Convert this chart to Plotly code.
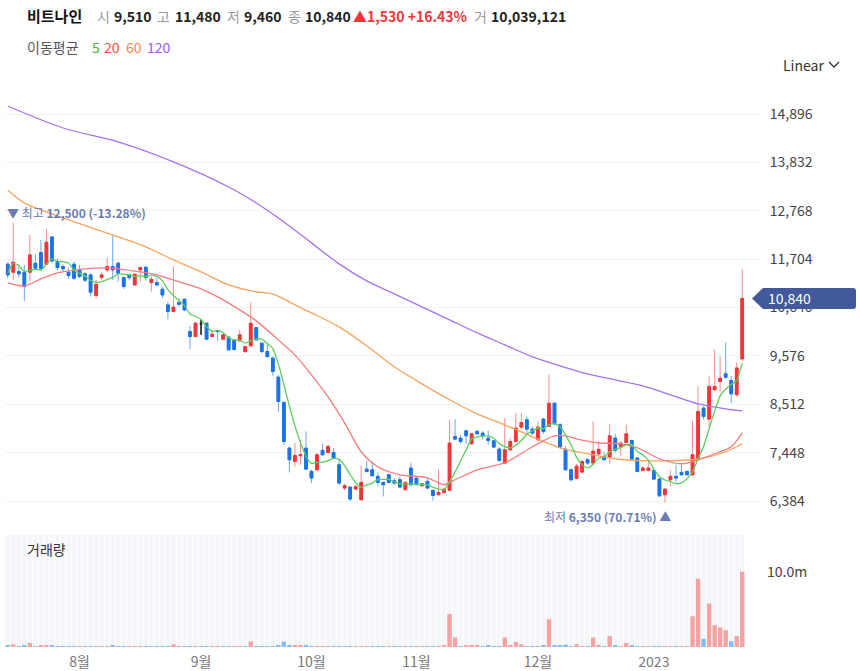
import plotly.graph_objects as go

# ---------------- data ----------------
stock_name = "비트나인"

opens = [11592, 11416, 11430, 11416, 11416, 11614, 11848, 11592, 12192, 11650,
         11540, 11416, 11592, 11467, 11380, 11357, 10903, 11299, 11467, 11540,
         11614, 11299, 11357, 11138, 11467, 11525, 11188, 11188, 11042, 10697,
         10551, 10748, 10822, 10111, 10001, 10280, 10294, 10001, 10133, 9943,
         9987, 9928, 9906, 9671, 9796, 10199, 9855, 9673, 9526, 9108,
         8552, 7548, 7255, 7379, 7548, 7035, 7072, 7496, 7452, 7452,
         7181, 6669, 6690, 6647, 6412, 7086, 7072, 6925, 6793, 6962,
         6830, 6852, 6632, 7108, 6888, 6720, 6815, 6617, 6522, 6573,
         6620, 7803, 7767, 7928, 7643, 7914, 7877, 7767, 7708, 7525,
         7217, 7510, 7694, 8009, 8170, 7965, 7730, 8185, 8023, 8536,
         8060, 7525, 7071, 6880, 7020, 7291, 7220, 7420, 7364, 7349,
         7767, 7584, 7672, 7716, 7328, 7057, 7057, 7057, 6866, 6522,
         6851, 6925, 7013, 7035, 6962, 7306, 8426, 8185, 8830, 9013,
         9181, 9035, 8720, 9510]
highs = [11636, 12500, 11540, 11577, 12236, 11812, 12127, 12368, 12200, 11724,
         11590, 11504, 11650, 11577, 11420, 11394, 11247, 11430, 11738, 12222,
         11650, 11321, 11380, 11394, 11540, 11540, 11320, 11283, 11100, 10771,
         11540, 10844, 10830, 10236, 10330, 10367, 10310, 10150, 10150, 10060,
         10000, 9940, 10148, 9790, 10748, 10205, 9870, 9856, 9563, 9160,
         8573, 7584, 7658, 7731, 7914, 7072, 7438, 7643, 7621, 7548,
         7291, 6760, 6700, 6740, 7167, 7277, 7255, 7013, 6810, 6984,
         6888, 6925, 6815, 7232, 6900, 6780, 6888, 6647, 7072, 6660,
         8170, 8185, 7840, 7950, 7870, 7950, 7928, 7928, 7730, 7569,
         8207, 7767, 8316, 8316, 8243, 8023, 8133, 8207, 9159, 8540,
         8097, 7584, 7100, 7200, 7290, 7330, 8130, 7700, 7452, 8082,
         7862, 7694, 8060, 7730, 7350, 7160, 7254, 7086, 6888, 6660,
         7057, 7181, 7181, 7050, 8133, 8903, 8463, 9123, 9709, 9562,
         9870, 9137, 9430, 11480]
lows = [11284, 11247, 11300, 10786, 11211, 11467, 11467, 11577, 11614, 11467,
        11430, 11270, 11247, 11284, 11200, 10881, 10844, 11247, 11416, 11247,
        11211, 11050, 11240, 11120, 11211, 11230, 10990, 11100, 10844, 10382,
        10540, 10660, 10570, 9723, 9990, 10038, 9930, 9990, 9906, 9930,
        9700, 9690, 9891, 9640, 9781, 9925, 9635, 9526, 9138, 8332,
        7621, 7013, 7145, 7181, 7072, 6778, 7035, 7379, 7416, 7306,
        6742, 6617, 6380, 6620, 6397, 7010, 6925, 6720, 6485, 6780,
        6742, 6669, 6617, 6720, 6730, 6700, 6647, 6390, 6500, 6560,
        6600, 7730, 7643, 7643, 7620, 7840, 7730, 7620, 7547, 7254,
        7203, 7496, 7672, 7950, 7862, 7840, 7694, 7862, 8009, 8060,
        7547, 7056, 6815, 6860, 6990, 7180, 7200, 7380, 7276, 7203,
        7452, 7364, 7657, 7276, 7013, 7035, 7035, 6851, 6470, 6350,
        6705, 6793, 6940, 6940, 6940, 7291, 8170, 7987, 8815, 8793,
        9064, 8537, 8683, 9460]
closes = [11357, 11636, 11380, 11101, 11797, 11504, 11504, 12075, 11665, 11518,
          11490, 11343, 11284, 11321, 11240, 10977, 11152, 11357, 11540, 11467,
          11394, 11101, 11299, 11372, 11518, 11300, 11261, 11137, 10917, 10551,
          10646, 10712, 10587, 10001, 10294, 10280, 9943, 10052, 10111, 10038,
          9708, 9716, 10038, 9781, 10294, 9928, 9671, 9563, 9233, 8573,
          7694, 7291, 7386, 7401, 7086, 6889, 7401, 7401, 7584, 7328,
          6778, 6720, 6427, 6698, 6793, 7035, 6940, 6793, 6742, 6793,
          6778, 6691, 6793, 6742, 6742, 6764, 6669, 6507, 6573, 6647,
          7657, 7745, 7694, 7818, 7862, 7862, 7818, 7716, 7569, 7276,
          7510, 7694, 7986, 8111, 7965, 7877, 8009, 7913, 8536, 8082,
          7569, 7071, 6851, 7150, 7250, 7220, 7480, 7520, 7291, 7818,
          7496, 7657, 7862, 7306, 7035, 7108, 7108, 6866, 6500, 6646,
          6925, 6888, 6962, 6962, 7401, 8353, 8243, 8903, 8903, 9086,
          9108, 8742, 9310, 10840]
volumes = [150000, 360000, 130000, 220000, 540000, 130000, 140000, 220000, 140000, 100000,
           110000, 100000, 120000, 100000, 110000, 120000, 110000, 100000, 120000, 220000,
           110000, 110000, 60000, 50000, 60000, 50000, 60000, 50000, 60000, 90000,
           360000, 80000, 70000, 100000, 80000, 70000, 90000, 60000, 80000, 70000,
           90000, 80000, 70000, 90000, 720000, 120000, 110000, 120000, 130000, 220000,
           720000, 220000, 150000, 180000, 220000, 100000, 90000, 80000, 80000, 70000,
           90000, 80000, 90000, 70000, 80000, 70000, 60000, 50000, 40000, 40000,
           40000, 50000, 40000, 60000, 40000, 50000, 40000, 60000, 90000, 220000,
           4400000, 1260000, 80000, 220000, 220000, 220000, 80000, 180000, 100000, 100000,
           1260000, 150000, 680000, 360000, 130000, 130000, 130000, 150000, 3700000, 220000,
           220000, 320000, 100000, 360000, 100000, 100000, 1260000, 220000, 100000, 1440000,
           220000, 100000, 540000, 220000, 100000, 90000, 90000, 100000, 110000, 100000,
           90000, 90000, 80000, 90000, 4100000, 9100000, 1100000, 5800000, 2900000, 2600000,
           2250000, 770000, 1440000, 10039121]
# closes of the four sessions before the first visible candle (for the 5-day average)
prior_closes = [10560, 11600, 11750, 11700]

# moving averages (trading-day index, value)
ma20_idx = [0, 3, 6, 9, 14, 18, 24, 27, 31, 35, 38, 42, 45, 49, 52, 55, 58, 61, 64, 67,
            71, 76, 79, 81, 85, 90, 95, 99, 101, 103, 107, 111, 114, 118, 122, 125, 128, 131, 133]
ma20_val = [11181, 11115, 11269, 11401, 11489, 11511, 11423, 11357, 11203, 11050, 10874, 10588,
            10346, 9928, 9599, 9159, 8676, 8104, 7467, 7137, 6961, 6895, 6741, 6852, 7071, 7225,
            7577, 7818, 7818, 7752, 7664, 7643, 7555, 7313, 7203, 7291, 7423, 7577, 7884]
ma60_idx = [0, 3, 10, 20, 25, 30, 35, 40, 45, 48, 52, 55, 60, 65, 70, 75, 80, 85, 90, 95,
            100, 105, 110, 115, 120, 124, 127, 130, 133]
ma60_val = [13226, 12940, 12610, 12192, 11973, 11687, 11423, 11137, 10984, 10940, 10698, 10522,
            10214, 9797, 9335, 8961, 8610, 8302, 8060, 7796, 7555, 7423, 7313, 7269, 7269, 7291,
            7357, 7467, 7643]
ma120_idx = [0, 10, 20, 30, 40, 45, 50, 55, 60, 65, 70, 75, 80, 85, 90, 95, 100, 105, 110,
             115, 120, 125, 130, 133]
ma120_val = [15072, 14588, 14281, 13841, 13291, 12940, 12522, 12061, 11599, 11225, 10940, 10654,
             10368, 10082, 9819, 9555, 9357, 9181, 9049, 8917, 8720, 8522, 8412, 8368]

month_tick_idx = [13, 35, 55, 74, 96, 117]
month_tick_text = ["8월", "9월", "10월", "11월", "12월", "2023"]
price_ticks = [6384, 7448, 8512, 9576, 10640, 11704, 12768, 13832, 14896]
volume_ticks = [10000000]

N = len(closes)
assert all(len(a) == N for a in (opens, highs, lows, volumes))
idx = list(range(N))

# ---------------- styling ----------------
FONT = "Noto Sans CJK KR, Noto Sans, sans-serif"
RED, RED_WICK, RED_VOL = "#f0353b", "#f58c8c", "#f4a2a2"
BLUE, BLUE_WICK, BLUE_VOL = "#1a74e6", "#6aa6ef", "#86bcf4"
C5, C20, C60, C120 = "#5ccf5c", "#f47c7c", "#f6a45e", "#a571f2"
LBL = "#6b7bb3"
GRID = "#f1f2f5"

W, H = 860, 671
PL, PR, PT, PB = 5, 745, 85, 647
def pxx(px):
    return (px - PL) / (PR - PL)
def pxy(py):
    return (PB - py) / (PB - PT)

# price axis calibrated by its ticks (px position of first and last tick)
top_tick_px, bot_tick_px = 114, 501
per_px = (price_ticks[-1] - price_ticks[0]) / (bot_tick_px - top_tick_px)
price_panel_top, price_panel_bot = 85, 520
price_range = [price_ticks[0] - (price_panel_bot - bot_tick_px) * per_px,
               price_ticks[-1] + (top_tick_px - price_panel_top) * per_px]
price_dom = [pxy(price_panel_bot), 1.0]
vol_panel_top = 535
vol_tick_px = 572
vol_top = volume_ticks[0] * (PB - vol_panel_top) / (PB - vol_tick_px)

def price_to_paper(v):
    return price_dom[0] + (v - price_range[0]) / (price_range[1] - price_range[0]) * (price_dom[1] - price_dom[0])

up = [i for i in idx if closes[i] > opens[i]]
dn = [i for i in idx if closes[i] < opens[i]]
dj = [i for i in idx if closes[i] == opens[i]]

def pick(arr, ii):
    return [arr[i] for i in ii]

fig = go.Figure()

# volume panel
fig.add_trace(go.Bar(x=idx, y=[vol_top] * N, marker=dict(color="#f4f6fa", line_width=0),
                     yaxis="y2", hoverinfo="skip", showlegend=False))
vol_colors = []
for i in idx:
    ref = closes[i - 1] if i > 0 else opens[i]
    vol_colors.append(RED_VOL if closes[i] >= ref else BLUE_VOL)
fig.add_trace(go.Bar(x=idx, y=volumes, marker=dict(color=vol_colors, line_width=0),
                     yaxis="y2", showlegend=False))

# candle wicks (lighter) then bodies (saturated)
for ii, col in ((up, RED_WICK), (dn, BLUE_WICK)):
    fig.add_trace(go.Candlestick(
        x=ii, open=pick(opens, ii), high=pick(highs, ii), low=pick(lows, ii), close=pick(closes, ii),
        increasing=dict(line=dict(color=col, width=1), fillcolor=col),
        decreasing=dict(line=dict(color=col, width=1), fillcolor=col),
        whiskerwidth=0, showlegend=False, yaxis="y"))
for ii, col in ((up, RED), (dn, BLUE)):
    bo = pick(opens, ii)
    bc = pick(closes, ii)
    fig.add_trace(go.Candlestick(
        x=ii, open=bo, close=bc, high=[max(a, b) for a, b in zip(bo, bc)],
        low=[min(a, b) for a, b in zip(bo, bc)],
        increasing=dict(line=dict(color=col, width=1), fillcolor=col),
        decreasing=dict(line=dict(color=col, width=1), fillcolor=col),
        whiskerwidth=0, showlegend=False, yaxis="y"))
if dj:
    fig.add_trace(go.Candlestick(
        x=dj, open=pick(opens, dj), high=pick(highs, dj), low=pick(lows, dj), close=pick(closes, dj),
        increasing=dict(line=dict(color="#111111", width=1.5), fillcolor="#111111"),
        decreasing=dict(line=dict(color="#111111", width=1.5), fillcolor="#111111"),
        whiskerwidth=0, showlegend=False, yaxis="y"))

# moving averages
full = prior_closes + closes
ma5 = [sum(full[i:i + 5]) / 5 for i in idx]
fig.add_trace(go.Scatter(x=ma120_idx, y=ma120_val, mode="lines",
                         line=dict(color=C120, width=1.3, shape="spline", smoothing=0.8),
                         showlegend=False, yaxis="y"))
fig.add_trace(go.Scatter(x=ma60_idx, y=ma60_val, mode="lines",
                         line=dict(color=C60, width=1.3, shape="spline", smoothing=0.8),
                         showlegend=False, yaxis="y"))
fig.add_trace(go.Scatter(x=ma20_idx, y=ma20_val, mode="lines",
                         line=dict(color=C20, width=1.3, shape="spline", smoothing=0.8),
                         showlegend=False, yaxis="y"))
fig.add_trace(go.Scatter(x=idx, y=ma5, mode="lines",
                         line=dict(color=C5, width=1.3, shape="spline", smoothing=0.5),
                         showlegend=False, yaxis="y"))

# ---------------- annotations ----------------
ann = []
def text(t, px, py, size=13, color="#222", xanchor="left"):
    ann.append(dict(text=t, x=pxx(px), y=pxy(py), xref="paper", yref="paper",
                    xanchor=xanchor, yanchor="middle", showarrow=False,
                    font=dict(family=FONT, size=size, color=color)))

O, Hh, L, C, V = opens[-1], highs[-1], lows[-1], closes[-1], volumes[-1]
chg = C - closes[-2]
chg_pct = chg / closes[-2] * 100
HY = 16
text("<b>" + stock_name + "</b>", 25, HY, 15, "#111")
text("시", 95, HY, 14, "#999")
text(f"<b>{O:,}</b>", 112, HY, 14, "#222")
text("고", 155, HY, 14, "#999")
text(f"<b>{Hh:,}</b>", 173, HY, 14, "#222")
text("저", 225, HY, 14, "#999")
text(f"<b>{L:,}</b>", 242, HY, 14, "#222")
text("종", 286, HY, 14, "#999")
text(f"<b>{C:,}</b>", 303, HY, 14, "#222")
text(f"<b>▲{chg:,} {chg_pct:+.2f}%</b>", 351, HY, 14, RED)
text("거", 472, HY, 14, "#999")
text(f"<b>{V:,}</b>", 489, HY, 14, "#222")

LY = 47
text("이동평균", 25, LY, 14, "#555")
text("5", 90, LY, 14, "#3cb83c")
text("20", 102, LY, 14, "#f05252")
text("60", 124, LY, 14, "#f28a3c")
text("120", 145, LY, 14, "#9b5cf0")

text("Linear", 781, 65, 14, "#333")
text("거래량", 25, 549, 14, "#333")

hi = max(highs)
hi_i = highs.index(hi)
lo = min(lows)
lo_i = lows.index(lo)
hi_pct = (C / hi - 1) * 100
lo_pct = (C / lo - 1) * 100
ann.append(dict(text=f"▼ 최고 <b>{hi:,} ({hi_pct:.2f}%)</b>", x=hi_i, y=hi, xref="x", yref="y",
                xanchor="left", yanchor="bottom", xshift=-8, yshift=0, showarrow=False,
                font=dict(family=FONT, size=12, color=LBL)))
ann.append(dict(text=f"최저 <b>{lo:,} ({lo_pct:.2f}%)</b> ▲", x=lo_i, y=lo, xref="x", yref="y",
                xanchor="right", yanchor="top", xshift=8, yshift=-3, showarrow=False,
                font=dict(family=FONT, size=12, color=LBL)))

# last-price tag (placed at the last close, right of the plot area)
cy = price_to_paper(C)
ann.append(dict(text=f"{C:,}", x=1, y=cy, xref="paper", yref="paper", xanchor="left",
                yanchor="middle", xshift=21, showarrow=False,
                font=dict(family=FONT, size=14, color="white")))
shapes = [
    dict(type="path", xref="paper", yref="paper", xsizemode="pixel", ysizemode="pixel",
         xanchor=1, yanchor=cy,
         path="M 7,0 L 18,10.5 L 108,10.5 Q 111,10.5 111,7.5 L 111,-7.5 Q 111,-10.5 108,-10.5 L 18,-10.5 Z",
         fillcolor="#42599b", line=dict(width=0), layer="above"),
    dict(type="path", xref="paper", yref="paper",
         path=f"M {pxx(829)},{pxy(62)} L {pxx(834)},{pxy(67)} L {pxx(839)},{pxy(62)}",
         line=dict(color="#333", width=1.3)),
]

fig.update_layout(
    width=W, height=H,
    margin=dict(l=PL, r=W - PR, t=PT, b=H - PB, autoexpand=False),
    paper_bgcolor="white", plot_bgcolor="white",
    font=dict(family=FONT, size=14, color="#444"),
    barmode="overlay", bargap=0.2, boxgap=0.3,
    showlegend=False,
    annotations=ann, shapes=shapes,
    xaxis=dict(range=[-0.5, N - 0.5], anchor="y2", tickvals=month_tick_idx, ticktext=month_tick_text,
               showgrid=False, zeroline=False, showline=False, ticks="", ticklabelstandoff=5,
               automargin=False,
               tickfont=dict(size=14, color="#777"), rangeslider=dict(visible=False), fixedrange=True),
    yaxis=dict(domain=price_dom, range=price_range, side="right", automargin=False,
               tickvals=price_ticks, ticktext=[f"{v:,}" for v in price_ticks],
               showgrid=True, gridcolor=GRID, gridwidth=1, zeroline=False, showline=False,
               ticks="outside", ticklen=15, tickcolor=GRID, tickwidth=1, ticklabelstandoff=6,
               tickfont=dict(size=14, color="#444")),
    yaxis2=dict(domain=[0, pxy(vol_panel_top)], range=[0, vol_top], side="right", automargin=False,
                tickvals=volume_ticks, ticktext=[f"{v / 1e6:.1f}m" for v in volume_ticks],
                showgrid=False, zeroline=False, showline=False, ticks="",
                ticklabelstandoff=21, tickfont=dict(size=14, color="#444")),
)

fig.write_html("out.html", config={"displayModeBar": False},
               post_script="document.body.style.margin='0';")
